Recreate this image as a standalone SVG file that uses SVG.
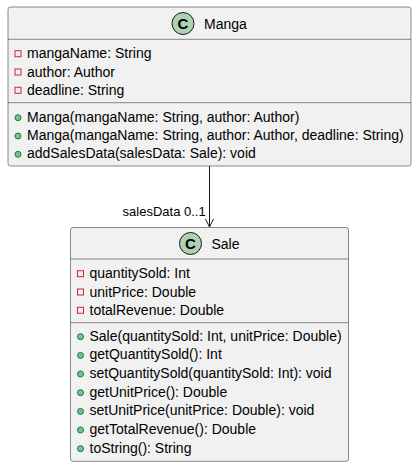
<svg xmlns="http://www.w3.org/2000/svg" width="417" height="467" viewBox="0 0 417 467">
<style>
.box{fill:#F1F1F1;stroke:#181818;stroke-width:0.5}
.sep{stroke:#181818;stroke-width:0.5}
.t{font-family:"Liberation Sans",Arial,sans-serif;font-size:14px;fill:#000000}
.lbl{font-family:"Liberation Sans",Arial,sans-serif;font-size:13px;fill:#000000}
.ci{fill:#ADD1B2;stroke:#181818;stroke-width:1}
.cl{font-family:"Liberation Sans",Arial,sans-serif;font-size:15px;font-weight:bold;fill:#000000}
.priv{fill:none;stroke:#C82930;stroke-width:1}
.pub{fill:#84BE84;stroke:#038048;stroke-width:1}
.edge{stroke:#181818;stroke-width:1;fill:none}
</style>
<rect width="417" height="467" fill="#FFFFFF"/>
<g id="connectors">
<line class="edge" x1="209.5" y1="166" x2="209.5" y2="227"/>
<polyline class="edge" points="205.5,219 209.5,227 213.5,219"/>
<text class="lbl" x="205.7" y="215.7" text-anchor="end">salesData 0..1</text>
</g>
<g id="Manga">
<rect class="box" x="8" y="7" width="403" height="159" rx="2.5"/>
<circle class="ci" cx="183" cy="23.5" r="11"/>
<text class="cl" x="183" y="28.8" text-anchor="middle">C</text>
<text class="t" x="204" y="29.3">Manga</text>
<line class="sep" x1="8" y1="39.3" x2="411" y2="39.3"/>
<rect class="priv" x="15" y="50.7" width="6" height="6"/>
<text class="t" x="27" y="58.3">mangaName: String</text>
<rect class="priv" x="15" y="69" width="6" height="6"/>
<text class="t" x="27" y="76.6">author: Author</text>
<rect class="priv" x="15" y="87.3" width="6" height="6"/>
<text class="t" x="27" y="94.9">deadline: String</text>
<line class="sep" x1="8" y1="102.7" x2="411" y2="102.7"/>
<circle class="pub" cx="18" cy="117.7" r="3"/>
<text class="t" x="27" y="121.7">Manga(mangaName: String, author: Author)</text>
<circle class="pub" cx="18" cy="136" r="3"/>
<text class="t" x="27" y="140">Manga(mangaName: String, author: Author, deadline: String)</text>
<circle class="pub" cx="18" cy="154.3" r="3"/>
<text class="t" x="27" y="158.3">addSalesData(salesData: Sale): void</text>
</g>
<g id="Sale">
<rect class="box" x="70.5" y="227.5" width="278" height="233.8" rx="2.5"/>
<circle class="ci" cx="190.5" cy="243.5" r="11"/>
<text class="cl" x="190.5" y="248.8" text-anchor="middle">C</text>
<text class="t" x="211.5" y="249.3">Sale</text>
<line class="sep" x1="70.5" y1="259" x2="348.5" y2="259"/>
<rect class="priv" x="77.5" y="270.7" width="6" height="6"/>
<text class="t" x="89.5" y="278.3">quantitySold: Int</text>
<rect class="priv" x="77.5" y="289" width="6" height="6"/>
<text class="t" x="89.5" y="296.6">unitPrice: Double</text>
<rect class="priv" x="77.5" y="307.3" width="6" height="6"/>
<text class="t" x="89.5" y="314.9">totalRevenue: Double</text>
<line class="sep" x1="70.5" y1="322.7" x2="348.5" y2="322.7"/>
<circle class="pub" cx="80.5" cy="336.7" r="3"/>
<text class="t" x="89.5" y="340.7">Sale(quantitySold: Int, unitPrice: Double)</text>
<circle class="pub" cx="80.5" cy="355.4" r="3"/>
<text class="t" x="89.5" y="359.4">getQuantitySold(): Int</text>
<circle class="pub" cx="80.5" cy="374" r="3"/>
<text class="t" x="89.5" y="378">setQuantitySold(quantitySold: Int): void</text>
<circle class="pub" cx="80.5" cy="392.7" r="3"/>
<text class="t" x="89.5" y="396.7">getUnitPrice(): Double</text>
<circle class="pub" cx="80.5" cy="411.4" r="3"/>
<text class="t" x="89.5" y="415.4">setUnitPrice(unitPrice: Double): void</text>
<circle class="pub" cx="80.5" cy="430" r="3"/>
<text class="t" x="89.5" y="434">getTotalRevenue(): Double</text>
<circle class="pub" cx="80.5" cy="448.7" r="3"/>
<text class="t" x="89.5" y="452.7">toString(): String</text>
</g>
</svg>
